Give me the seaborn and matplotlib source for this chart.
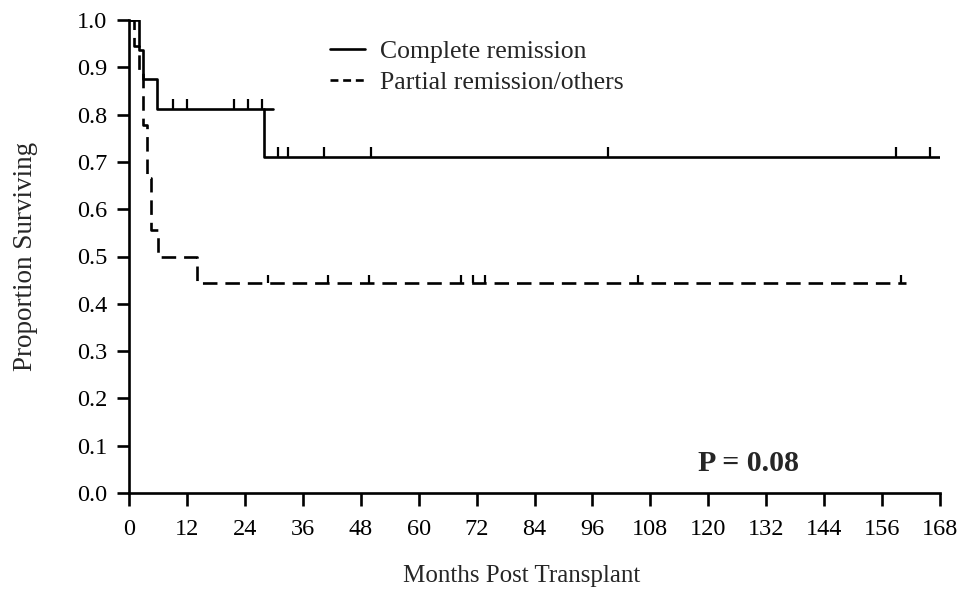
import numpy as np
import pandas as pd
import matplotlib
matplotlib.use("Agg")
import matplotlib.pyplot as plt
import seaborn as sns
from matplotlib.path import Path
from matplotlib.lines import Line2D

# ---- data ----
cr_times = [0, 2.0, 3.0, 5.9, 28.0, 168.0]
cr_surv = [1.0, 0.9375, 0.875, 0.8125, 0.7109, 0.7109]
cr_stub_times = [28.0, 29.9]
cr_stub_surv = [0.8125, 0.8125]
cr_cens_times = [9.2, 12.1, 21.8, 24.6, 27.5, 30.9, 32.9, 40.4, 50.1, 99.2, 158.9, 166.0]
cr_cens_surv = [0.8125, 0.8125, 0.8125, 0.8125, 0.8125, 0.7109, 0.7109, 0.7109, 0.7109, 0.7109, 0.7109, 0.7109]

pr_times = [0, 1.0, 2.0, 3.0, 3.7, 4.5, 6.1, 14.1, 161.0]
pr_surv = [1.0, 0.944, 0.889, 0.778, 0.667, 0.556, 0.5, 0.444, 0.444]
pr_cens_times = [28.8, 41.2, 49.7, 68.7, 71.2, 73.7, 105.4, 160.0]
pr_cens_surv = [0.444] * 8

groups = ["Complete remission", "Partial remission/others"]
x_ticks = list(range(0, 169, 12))
y_ticks = [round(0.1 * i, 1) for i in range(11)]
p_text = "P = 0.08"

# ---- figure ----
sns.set_theme(style="ticks")
plt.rcParams["font.family"] = ["Liberation Serif", "DejaVu Serif"]

fig = plt.figure(figsize=(9.63, 5.92), dpi=100)
ax = fig.add_axes([129 / 963, 1 - 493 / 592, (940 - 129) / 963, (493 - 20) / 592])

df = pd.concat([
    pd.DataFrame({"t": cr_times, "s": cr_surv, "g": groups[0]}),
    pd.DataFrame({"t": pr_times, "s": pr_surv, "g": groups[1]}),
])
lw = 1.9
sns.lineplot(data=df, x="t", y="s", style="g", units="g", estimator=None,
             dashes={groups[0]: "", groups[1]: (5.5, 3.0)},
             drawstyle="steps-post", color="black", linewidth=lw,
             legend=False, ax=ax, sort=False)
sns.lineplot(x=cr_stub_times, y=cr_stub_surv, color="black", linewidth=lw,
             estimator=None, ax=ax, sort=False)

tick_marker = Path([(0, 0), (0, 1)], [Path.MOVETO, Path.LINETO])
sns.scatterplot(x=cr_cens_times, y=cr_cens_surv, marker=tick_marker, s=14 ** 2,
                color="black", edgecolor="black", linewidth=1.6, ax=ax, zorder=3)
sns.scatterplot(x=pr_cens_times, y=pr_cens_surv, marker=tick_marker, s=11 ** 2,
                color="black", edgecolor="black", linewidth=1.6, ax=ax, zorder=3)

ax.set_xlim(0, 168)
ax.set_ylim(0, 1.0)
ax.set_xticks(x_ticks)
ax.set_yticks(y_ticks)
ax.set_yticklabels([f"{v:.1f}" for v in y_ticks])
ax.set_xticklabels([str(v) for v in x_ticks])
sns.despine(ax=ax)
for sp in ["left", "bottom"]:
    ax.spines[sp].set_linewidth(1.9)
    ax.spines[sp].set_color("black")
ax.tick_params(axis="both", direction="out", length=9, width=1.9,
               labelsize=17.5, colors="black")
ax.tick_params(axis="x", pad=9.5)
ax.tick_params(axis="y", pad=6.5)

ax.set_xlabel("Months Post Transplant", fontsize=18)
ax.xaxis.set_label_coords(0.4846, -0.153)
ax.set_ylabel("Proportion Surviving", fontsize=19.5, labelpad=28)

handles = [Line2D([], [], color="black", linewidth=lw),
           Line2D([], [], color="black", linewidth=lw, dashes=(3.0, 1.8))]
ax.legend(handles, groups, loc="upper left", bbox_to_anchor=(0.248, 0.958),
          frameon=False, fontsize=18.5, handlelength=1.35, handletextpad=0.6,
          labelspacing=0.33, borderaxespad=0, borderpad=0)

ax.text(128.4, 0.063, p_text, fontsize=21.5, fontweight="bold",
        ha="center", va="center")

fig.savefig("out.png", dpi=100)
